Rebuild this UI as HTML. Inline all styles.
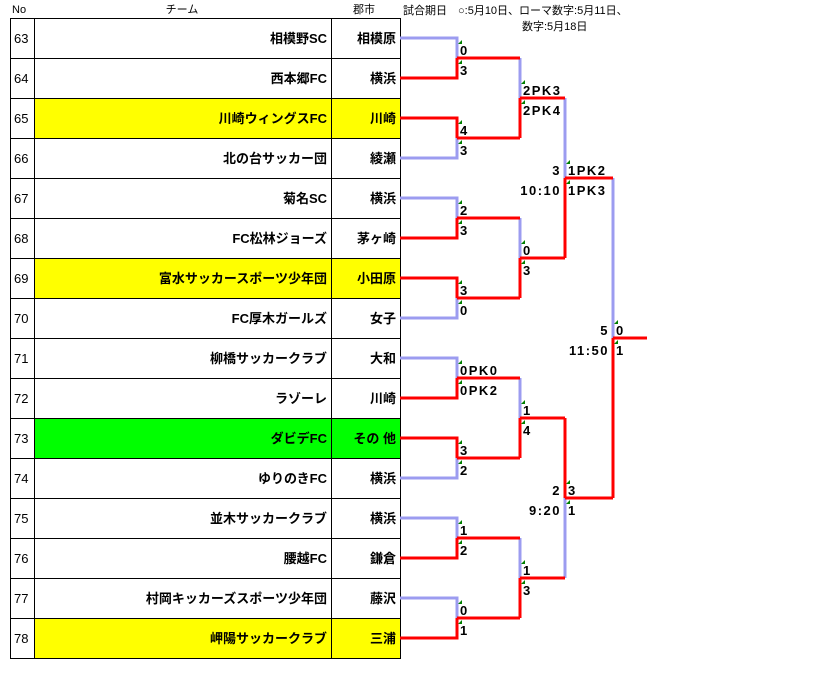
<!DOCTYPE html>
<html><head><meta charset="utf-8"><style>
body{margin:0;background:#fff;width:819px;height:694px;overflow:hidden}
svg{display:block}
.h{font:11px "Liberation Sans","Noto Sans CJK JP",sans-serif;fill:#000}
.t{font:bold 13px "Liberation Sans","Noto Sans CJK JP",sans-serif;fill:#000}
.n{font:13px "Liberation Sans",sans-serif;fill:#000}
.s{font:bold 13px "Liberation Sans",sans-serif;fill:#000;letter-spacing:1.5px}
</style></head><body>
<svg width="819" height="694" xmlns="http://www.w3.org/2000/svg">
<text class="h" x="12" y="13">No</text>
<text class="h" x="182" y="13" text-anchor="middle">チーム</text>
<text class="h" x="353" y="13">郡市</text>
<text class="h" x="403" y="14">試合期日　○:5月10日、ローマ数字:5月11日、</text>
<text class="h" x="522" y="30">数字:5月18日</text>
<g id="tbl"></g>
<g id="bb" fill="none" stroke-width="3"></g>
<g id="br" fill="none" stroke-width="3"></g>
<g id="lb"></g>
</svg>
<script>
const NS="http://www.w3.org/2000/svg";
const rows=[[63,"相模野SC","相模原"],[64,"西本郷FC","横浜"],[65,"川崎ウィングスFC","川崎","#ffff00"],[66,"北の台サッカー団","綾瀬"],[67,"菊名SC","横浜"],[68,"FC松林ジョーズ","茅ヶ崎"],[69,"富水サッカースポーツ少年団","小田原","#ffff00"],[70,"FC厚木ガールズ","女子"],[71,"柳橋サッカークラブ","大和"],[72,"ラゾーレ","川崎"],[73,"ダビデFC","その 他","#00ff00"],[74,"ゆりのきFC","横浜"],[75,"並木サッカークラブ","横浜"],[76,"腰越FC","鎌倉"],[77,"村岡キッカーズスポーツ少年団","藤沢"],[78,"岬陽サッカークラブ","三浦","#ffff00"]];
function el(p,t,a,txt){const e=document.createElementNS(NS,t);for(const k in a)e.setAttribute(k,a[k]);if(txt!=null)e.textContent=txt;document.getElementById(p).appendChild(e);return e;}
rows.forEach((r,i)=>{const y=18+40*i;
 el("tbl","rect",{x:10.5,y:y+.5,width:24,height:40,fill:"#fff",stroke:"#000"});
 el("tbl","rect",{x:34.5,y:y+.5,width:297,height:40,fill:r[3]||"#fff",stroke:"#000"});
 el("tbl","rect",{x:331.5,y:y+.5,width:69,height:40,fill:r[3]||"#fff",stroke:"#000"});
 el("tbl","text",{class:"n",x:14,y:y+25},r[0]);
 el("tbl","text",{class:"t",x:327,y:y+25,"text-anchor":"end"},r[1]);
 el("tbl","text",{class:"t",x:396,y:y+25,"text-anchor":"end"},r[2]);
});
const R="#ff0000",B="#9c9cf0";
function line(pts,c){el(c==R?"br":"bb","polyline",{points:pts.map(p=>p.join(",")).join(" "),stroke:c});}
function match(x,y1,y2,topWin,nx,fromX){const m=(y1+y2)/2;
 line([[fromX,y1],[x,y1],[x,m]],topWin?R:B);
 line([[fromX,y2],[x,y2],[x,m]],topWin?B:R);
 line([[x,m],[nx,m]],R);return m;}
function sc(x,m,a,b){el("lb","text",{class:"s",x:x+3,y:m-3},a);el("lb","text",{class:"s",x:x+3,y:m+17},b);
 el("lb","polygon",{points:`${x+1},${m-14} ${x+5},${m-18} ${x+5},${m-14}`,fill:"#008000"});
 el("lb","polygon",{points:`${x+1},${m+6} ${x+5},${m+2} ${x+5},${m+6}`,fill:"#008000"});}
function lft(x,m,a,b){el("lb","text",{class:"s",x:x-4,y:m-3,"text-anchor":"end"},a);el("lb","text",{class:"s",x:x-4,y:m+17,"text-anchor":"end"},b);}
const r1w=[false,true,false,true,false,true,false,false];
const r1s=[["0","3"],["4","3"],["2","3"],["3","0"],["0PK0","0PK2"],["3","2"],["1","2"],["0","1"]];
for(let k=0;k<8;k++){const y1=38+80*k,y2=y1+40;match(457,y1,y2,r1w[k],520,400);sc(457,(y1+y2)/2,...r1s[k]);}
const r2s=[["2PK3","2PK4"],["0","3"],["1","4"],["1","3"]];
for(let k=0;k<4;k++){const y1=58+160*k,y2=y1+80;match(520,y1,y2,false,565,520);sc(520,(y1+y2)/2,...r2s[k]);}
match(565,98,258,false,613,565);sc(565,178,"1PK2","1PK3");lft(565,178,"3","10:10");
match(565,418,578,true,613,565);sc(565,498,"3","1");lft(565,498,"2","9:20");
match(613,178,498,false,647,613);sc(613,338,"0","1");lft(613,338,"5","11:50");
</script>
</body></html>
